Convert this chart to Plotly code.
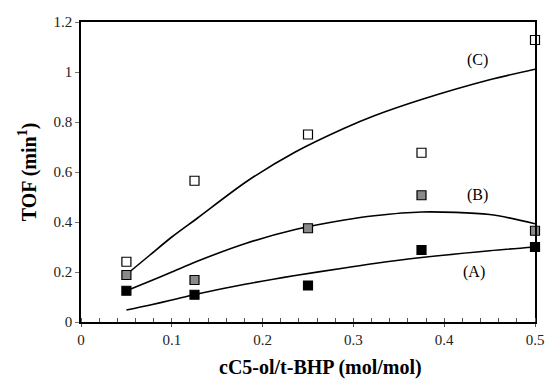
import plotly.graph_objects as go

# Measured points
x_pts = [0.05, 0.125, 0.25, 0.375, 0.5]
c_pts = [0.241, 0.565, 0.750, 0.677, 1.128]
b_pts = [0.188, 0.168, 0.375, 0.507, 0.365]
a_pts = [0.125, 0.109, 0.146, 0.288, 0.300]

# Model curves
x_curve = [0.05, 0.075, 0.1, 0.128, 0.182, 0.236, 0.29, 0.323, 0.375, 0.45, 0.5]
c_curve = [0.19, 0.265, 0.34, 0.415, 0.561, 0.68, 0.775, 0.825, 0.89, 0.969, 1.011]
b_curve = [0.125, 0.162, 0.2, 0.243, 0.315, 0.37, 0.408, 0.425, 0.44, 0.43, 0.393]
a_curve = [0.048, 0.067, 0.088, 0.112, 0.152, 0.186, 0.216, 0.234, 0.258, 0.285, 0.30]

curve_labels = ["(C)", "(B)", "(A)"]
label_x = [0.437, 0.437, 0.433]
label_y = [1.05, 0.51, 0.20]

serif = "Times New Roman, Liberation Serif, DejaVu Serif, serif"

fig = go.Figure()
for yc in [c_curve, b_curve, a_curve]:
    fig.add_trace(go.Scatter(x=x_curve, y=yc, mode="lines",
                             line=dict(color="black", width=1.6, shape="spline", smoothing=0.8),
                             showlegend=False, hoverinfo="skip", cliponaxis=False))

fig.add_trace(go.Scatter(x=x_pts, y=c_pts, mode="markers", cliponaxis=False,
                         marker=dict(symbol="square", size=9, color="white",
                                     line=dict(color="black", width=1.2)),
                         showlegend=False))
fig.add_trace(go.Scatter(x=x_pts, y=b_pts, mode="markers", cliponaxis=False,
                         marker=dict(symbol="square", size=9, color="#8a8a8a",
                                     line=dict(color="black", width=1.2)),
                         showlegend=False))
fig.add_trace(go.Scatter(x=x_pts, y=a_pts, mode="markers", cliponaxis=False,
                         marker=dict(symbol="square", size=9, color="black",
                                     line=dict(color="black", width=1.2)),
                         showlegend=False))

for t, lx, ly in zip(curve_labels, label_x, label_y):
    fig.add_annotation(x=lx, y=ly, text=t, showarrow=False,
                       font=dict(family=serif, size=16, color="black"))

fig.add_annotation(xref="paper", yref="paper", x=0.527, y=-0.153,
                   xanchor="center", yanchor="middle", showarrow=False,
                   text="<b>cC5-ol/t-BHP (mol/mol)</b>",
                   font=dict(family=serif, size=20, color="black"))

fig.update_layout(
    width=555, height=383,
    margin=dict(l=81, r=11, t=22, b=61),
    paper_bgcolor="white", plot_bgcolor="white",
    font=dict(family=serif, size=15, color="#222"),
)
fig.update_xaxes(
    range=[0, 0.5], tickvals=[0, 0.1, 0.2, 0.3, 0.4, 0.5],
    ticktext=["0", "0.1", "0.2", "0.3", "0.4", "0.5"],
    showgrid=False, zeroline=False,
    showline=True, linecolor="black", linewidth=1.5, mirror=True,
    ticks="outside", ticklen=3, tickcolor="#555",
    tickfont=dict(family=serif, size=15, color="#222"),
    minor=dict(dtick=0.02, ticks="inside", ticklen=4, tickcolor="#555", showgrid=False),
)
fig.update_yaxes(
    range=[0, 1.2], tickvals=[0, 0.2, 0.4, 0.6, 0.8, 1.0, 1.2],
    ticktext=["0", "0.2", "0.4", "0.6", "0.8", "1", "1.2"],
    showgrid=False, zeroline=False,
    showline=True, linecolor="black", linewidth=1.5, mirror=True,
    ticks="outside", ticklen=4, tickcolor="#777",
    tickfont=dict(family=serif, size=15, color="#222"),
    title=dict(text="<b>TOF (min<sup>1</sup>)</b>", standoff=12,
               font=dict(family=serif, size=20, color="black")),
)

fig.write_html("out.html", config={"displayModeBar": False},
               post_script="document.body.style.margin='0';document.body.style.overflow='hidden';")
